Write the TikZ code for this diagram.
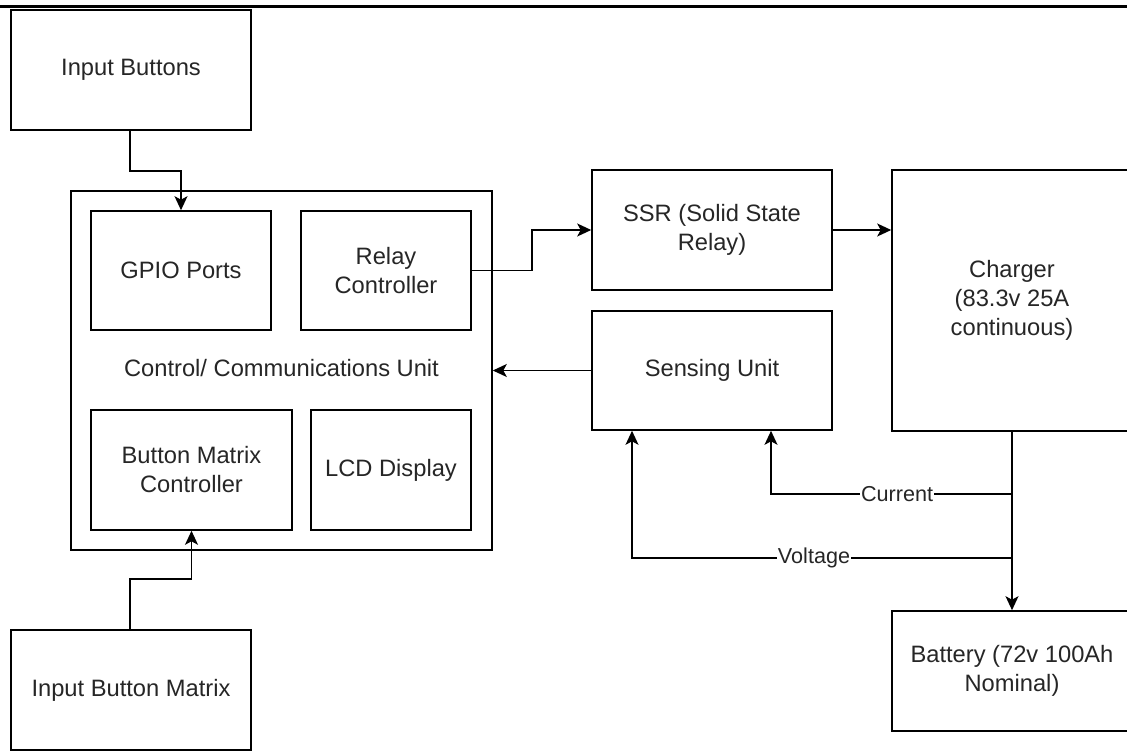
\documentclass[tikz,border=0pt]{standalone}
\usepackage{fontspec}
\setmainfont{Liberation Sans}
\usetikzlibrary{arrows.meta,calc}
\tikzset{
  blk/.style={draw=black, line width=1.6pt, inner sep=0pt, align=center,
    text=black!85, font=\fontsize{23.7}{29}\selectfont},
  plain/.style={inner sep=0pt, align=center, text=black!85,
    font=\fontsize{23.7}{29}\selectfont},
  arr/.style={draw=black, line width=1.6pt,
    -{Stealth[length=14pt,width=13pt,inset=3.5pt]}},
  lbl/.style={fill=white, inner sep=1pt, text=black!85,
    font=\fontsize{21.6}{26}\selectfont}
}
\begin{document}
\begin{tikzpicture}[x=1pt,y=-1pt]
\useasboundingbox (0,0) rectangle (1127,751);
\fill[white] (0,0) rectangle (1127,751);
\clip (0,0) rectangle (1127,751);
% top rule
\draw[line width=3pt] (0,7) -- (1127,7);
% nodes
\node[blk, minimum width=240pt, minimum height=120pt] (ib) at (131,70) {Input Buttons};
\node[blk, minimum width=421pt, minimum height=359pt] (outer) at (281.5,370.5) {};
\node[plain] (outerlbl) at (281.5,368.5) {Control/ Communications Unit};
\node[blk, minimum width=180pt, minimum height=119pt] (gpio) at (181,270.5) {GPIO Ports};
\node[blk, minimum width=170pt, minimum height=119pt] (relay) at (386,270.5) {Relay\\Controller};
\node[blk, minimum width=201pt, minimum height=120pt] (bmc) at (191.5,470) {Button Matrix\\Controller};
\node[blk, minimum width=160pt, minimum height=120pt] (lcd) at (391,470) {LCD Display};
\node[blk, minimum width=240pt, minimum height=120pt] (ibm) at (131,690) {Input Button Matrix};
\node[blk, minimum width=240pt, minimum height=120pt] (ssr) at (712,230) {SSR (Solid State\\Relay)};
\node[blk, minimum width=240pt, minimum height=119pt] (sense) at (712,370.5) {Sensing Unit};
\node[blk, minimum width=240pt, minimum height=261pt] (charger) at (1012,300.5) {Charger\\(83.3v 25A\\continuous)};
\node[blk, minimum width=240pt, minimum height=120pt] (battery) at (1012,671) {Battery (72v 100Ah\\Nominal)};
% helper coordinates
\coordinate (ibout) at ([xshift=-1pt]ib.south);
\coordinate (ibmout) at ([xshift=-1pt]ibm.north);
\coordinate (jc) at (1012,494);
\coordinate (jv) at (1012,558);
\coordinate (cT) at ([xshift=59pt]sense.south);
\coordinate (vT) at ([xshift=-80pt]sense.south);
% connectors
\draw[arr] (ibout) -- ++(0,40) -| (gpio.north);
\draw[arr] (ibmout) -- ++(0,-50) -| (bmc.south);
\draw[arr] (relay.east) -- ++(60,0) |- (ssr.west);
\draw[arr] (ssr.east) -- (ssr.east -| charger.west);
\draw[arr] (sense.west) -- (sense.west -| outer.east);
\draw[arr] (charger.south) -- (battery.north);
\draw[arr] (jc) -- node[lbl,pos=0.477]{Current} (jc -| cT) -- (cT);
\draw[arr] (jv) -- node[lbl,pos=0.521]{Voltage} (jv -| vT) -- (vT);
\end{tikzpicture}
\end{document}
